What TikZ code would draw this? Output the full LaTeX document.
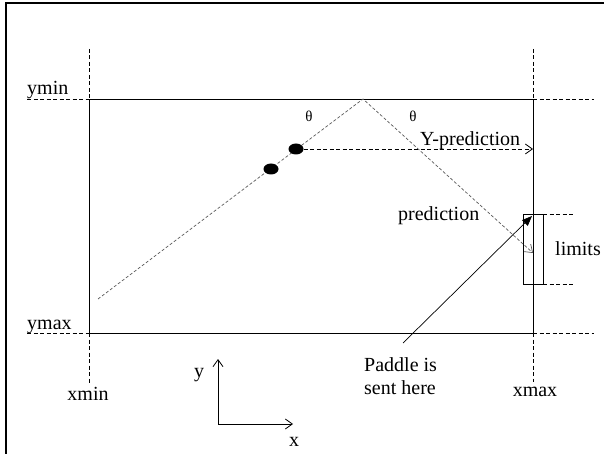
\documentclass[tikz,border=0pt]{standalone}
\usepackage{fontspec}
\setmainfont{Liberation Serif}
\usetikzlibrary{arrows.meta,shapes.geometric}
\tikzset{
  wall/.style={line width=0.8pt},
  guide/.style={line width=0.8pt,dash pattern=on 4pt off 2.5pt},
  path/.style={line width=0.7pt,gray!70!black,dash pattern=on 3pt off 2pt},
  ball/.style={ellipse,fill=black,minimum width=15pt,minimum height=11pt,inner sep=0pt},
  lbl/.style={font=\fontsize{20}{23}\selectfont,inner sep=0pt},
  angle/.style={font=\fontsize{15}{17}\selectfont,inner sep=0pt},
  openarrow/.style={-{Straight Barb[length=7pt,width=10pt]}},
  every picture/.style={line cap=butt,line join=miter}
}

\begin{document}
\begin{tikzpicture}[x=1pt,y=-1pt]
  \useasboundingbox (0,0) rectangle (604,454);
  % frame
  \draw[line width=2.5pt] (6,454) -- (6,3) -- (604,3);

  % playing field
  \draw[wall] (89,99) rectangle (533,333);
  \draw[guide] (27,99) -- (89,99) (533,99) -- (594,99);
  \draw[guide] (27,333) -- (89,333) (533,333) -- (594,333);
  \draw[guide] (89,49) -- (89,99) (89,333) -- (89,384);
  \draw[guide] (533,49) -- (533,99) (533,333) -- (533,382);

  \node[lbl,anchor=base west] (ymin) at (27,95) {ymin};
  \node[lbl,anchor=base west] (ymax) at (27,329) {ymax};
  \node[lbl,anchor=base] (xmin) at (88,400) {xmin};
  \node[lbl,anchor=base] (xmax) at (535,396) {xmax};

  % paddle and its limits
  \draw[wall] (523,214) rectangle (543,284);
  \draw[guide] (543,214) -- (573,214) (543,284) -- (573,284);
  \node[lbl,anchor=base west] (limits) at (555,255) {limits};

  % ball path
  \coordinate (start) at (98,299);
  \coordinate (apex) at (363,99);
  \coordinate (hit) at (533,253);
  \draw[path,openarrow] (start) -- (apex) -- (hit);
  \node[ball] (ball2) at (271,169) {};
  \node[ball] (ball1) at (296,149) {};
  \node[angle] (thetaL) at (309,116) {θ};
  \node[angle] (thetaR) at (413,116) {θ};

  % y prediction
  \coordinate (ypred) at (533,149);
  \draw[guide,openarrow] (ball1.east) -- (ypred);
  \node[lbl,anchor=base west] (ylabel) at (420,146) {Y-prediction};
  \node[lbl,anchor=base west] (pred) at (398,220) {prediction};

  % paddle target
  \node[lbl,anchor=base west,align=left] (sent) at (364,394) {Paddle is\\sent here};
  \coordinate (tail) at (403,343);
  \coordinate (target) at (532,216);
  \draw[line width=0.7pt,-{Triangle[length=10pt,width=8pt]}] (tail) -- (target);

  % axes
  \coordinate (origin) at (218,424);
  \coordinate (yend) at (218,359);
  \coordinate (xend) at (293,424);
  \draw[line width=0.8pt,openarrow] (origin) -- (yend);
  \draw[line width=0.8pt,openarrow] (origin) -- (xend);
  \node[lbl,anchor=base] (ax) at (294,446) {x};
  \node[lbl,anchor=base] (ay) at (199,377) {y};
\end{tikzpicture}
\end{document}
